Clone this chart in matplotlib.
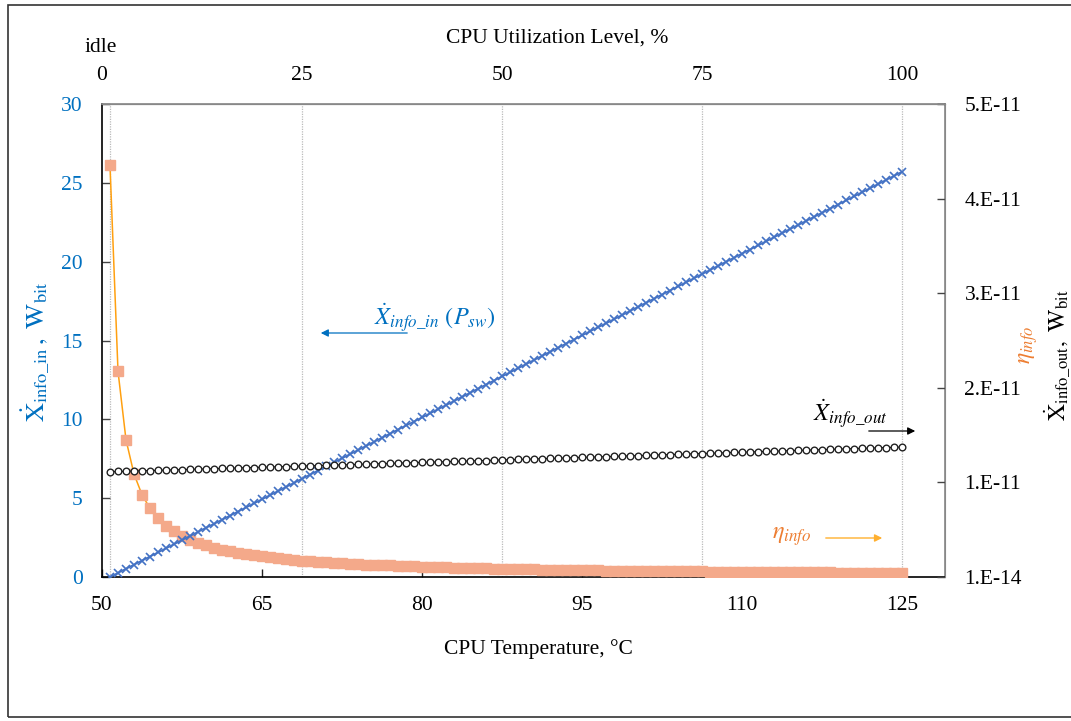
import matplotlib
matplotlib.use("Agg")
import matplotlib.pyplot as plt
from matplotlib.patches import Rectangle

plt.rcParams['font.family'] = ['Liberation Serif', 'DejaVu Serif']
plt.rcParams['mathtext.fontset'] = 'stix'

# ---------------- data ----------------
utilization = list(range(1, 101))          # CPU utilization level, %
temperature = [50 + 0.75 * u for u in utilization]   # CPU temperature, °C

x_info_in = [0.00, 0.26, 0.52, 0.78, 1.04, 1.30, 1.56, 1.82, 2.08, 2.34,
             2.60, 2.86, 3.12, 3.37, 3.63, 3.89, 4.15, 4.41, 4.67, 4.93,
             5.19, 5.45, 5.71, 5.97, 6.23, 6.49, 6.75, 7.01, 7.27, 7.53,
             7.79, 8.05, 8.31, 8.57, 8.83, 9.09, 9.35, 9.61, 9.86, 10.12,
             10.38, 10.64, 10.90, 11.16, 11.42, 11.68, 11.94, 12.20, 12.46, 12.72,
             12.98, 13.24, 13.50, 13.76, 14.02, 14.28, 14.54, 14.80, 15.06, 15.32,
             15.58, 15.84, 16.09, 16.35, 16.61, 16.87, 17.13, 17.39, 17.65, 17.91,
             18.17, 18.43, 18.69, 18.95, 19.21, 19.47, 19.73, 19.99, 20.25, 20.51,
             20.77, 21.03, 21.29, 21.55, 21.81, 22.07, 22.32, 22.58, 22.84, 23.10,
             23.36, 23.62, 23.88, 24.14, 24.40, 24.66, 24.92, 25.18, 25.44, 25.70]

eta_info = [26.10, 13.05, 8.70, 6.53, 5.22, 4.35, 3.73, 3.26, 2.90, 2.61,
            2.37, 2.18, 2.01, 1.86, 1.74, 1.63, 1.54, 1.45, 1.37, 1.31,
            1.24, 1.19, 1.13, 1.09, 1.04, 1.00, 0.97, 0.93, 0.90, 0.87,
            0.84, 0.82, 0.79, 0.77, 0.75, 0.73, 0.71, 0.69, 0.67, 0.65,
            0.64, 0.62, 0.61, 0.59, 0.58, 0.57, 0.56, 0.54, 0.53, 0.52,
            0.51, 0.50, 0.49, 0.48, 0.47, 0.47, 0.46, 0.45, 0.44, 0.44,
            0.43, 0.42, 0.41, 0.41, 0.40, 0.40, 0.39, 0.38, 0.38, 0.37,
            0.37, 0.36, 0.36, 0.35, 0.35, 0.34, 0.34, 0.33, 0.33, 0.33,
            0.32, 0.32, 0.31, 0.31, 0.31, 0.30, 0.30, 0.30, 0.29, 0.29,
            0.29, 0.28, 0.28, 0.28, 0.27, 0.27, 0.27, 0.27, 0.26, 0.26]

# x_info_out in units of 1e-11 W_bit
x_info_out_e11 = [1.113, 1.116, 1.118, 1.121, 1.123, 1.126, 1.128, 1.131, 1.133, 1.136,
                  1.138, 1.141, 1.143, 1.146, 1.148, 1.151, 1.153, 1.156, 1.158, 1.161,
                  1.163, 1.166, 1.168, 1.171, 1.173, 1.176, 1.178, 1.181, 1.183, 1.186,
                  1.188, 1.191, 1.194, 1.196, 1.199, 1.201, 1.204, 1.207, 1.209, 1.212,
                  1.214, 1.217, 1.219, 1.222, 1.225, 1.227, 1.230, 1.232, 1.235, 1.238,
                  1.240, 1.243, 1.245, 1.248, 1.251, 1.254, 1.256, 1.259, 1.262, 1.265,
                  1.267, 1.270, 1.273, 1.275, 1.278, 1.281, 1.284, 1.286, 1.289, 1.292,
                  1.295, 1.297, 1.300, 1.303, 1.306, 1.308, 1.311, 1.314, 1.317, 1.319,
                  1.322, 1.325, 1.328, 1.330, 1.333, 1.336, 1.339, 1.341, 1.344, 1.347,
                  1.349, 1.352, 1.355, 1.358, 1.360, 1.363, 1.366, 1.369, 1.371, 1.374]
x_info_out = [v * 1e-11 for v in x_info_out_e11]

temp_ticks = [50, 65, 80, 95, 110, 125]
util_ticks = [0, 25, 50, 75, 100]
left_ticks = [0, 5, 10, 15, 20, 25, 30]
right_ticks = [1e-14, 1e-11, 2e-11, 3e-11, 4e-11, 5e-11]
right_labels = ['1.E-14', '1.E-11', '2.E-11', '3.E-11', '4.E-11', '5.E-11']

# ---------------- figure ----------------
W, H = 1071, 721
fig = plt.figure(figsize=(W / 100, H / 100), dpi=100)

def fx(px):
    return px / W

def fy(py):
    return 1 - py / H

fig.patches.append(Rectangle((fx(8), fy(717)), 2.0, (717 - 5) / H,
                             transform=fig.transFigure, fill=False,
                             edgecolor='#333333', lw=1.2))

ax = fig.add_axes([fx(102), fy(577), (945 - 102) / W, (577 - 104) / H])
BLUE_TXT = '#0070C0'
BLUE = '#4472C4'
ORANGE = '#FFA010'
SALMON = '#F4A98A'
FS = 15.5

xmin, xmax = 50, 50 + (945 - 102) / 10.667
ax.set_xlim(xmin, xmax)
ax.set_ylim(0, 30)

# vertical dotted gridlines at utilization positions
for u in [1, 25, 50, 75, 100]:
    ax.axvline(50 + 0.75 * u, color='#BBBBBB', lw=0.9, ls=(0, (1, 1)), zorder=0)

ax.plot(temperature, eta_info, color=ORANGE, lw=1.1, marker='s', ms=6.5,
        mfc=SALMON, mec=SALMON, zorder=3)
ax.plot(temperature, x_info_in, color=BLUE, lw=1.3, marker='x', ms=5.5,
        mew=1.2, mec=BLUE, zorder=4)

ax.set_xticks(temp_ticks)
ax.set_yticks(left_ticks)
ax.tick_params(axis='both', direction='in', length=6, width=1, labelsize=FS, pad=14)
ax.tick_params(axis='y', colors='#444444', labelcolor=BLUE_TXT)
ax.tick_params(axis='x', colors='#222222', labelcolor='black')
ax.spines['left'].set_color('black')
ax.spines['bottom'].set_color('black')
ax.spines['top'].set_color('#888888')
ax.spines['right'].set_color('#888888')
for s in ax.spines.values():
    s.set_linewidth(1.2)

# right axis
ax2 = ax.twinx()
ax2.set_ylim(1e-14, 5e-11)
ax2.plot(temperature, x_info_out, color='black', lw=0.8, marker='o', ms=4.8,
         mfc='white', mec='#222222', mew=1.0, zorder=5)
ax2.set_yticks(right_ticks)
ax2.set_yticklabels(right_labels)
ax2.tick_params(axis='y', direction='in', length=6, width=1, labelsize=FS, pad=14,
                colors='#444444', labelcolor='black')
ax2.spines['right'].set_color('#888888')
ax2.spines['top'].set_color('#888888')
ax2.spines['left'].set_visible(False)
ax2.spines['bottom'].set_visible(False)

# top axis
ax3 = ax.twiny()
ax3.set_xlim((xmin - 50) / 0.75, (xmax - 50) / 0.75)
ax3.set_xticks(util_ticks)
ax3.tick_params(axis='x', length=0, labelsize=FS, pad=14, labelcolor='black')
ax3.spines['top'].set_color('#888888')
for k in ['left', 'right', 'bottom']:
    ax3.spines[k].set_visible(False)

# axis titles
fig.text(fx(557), fy(38), 'CPU Utilization Level, %', fontsize=FS, ha='center', va='center')
fig.text(fx(101), fy(47), 'idle', fontsize=FS, ha='center', va='center')
fig.text(fx(538), fy(649), 'CPU Temperature, °C', fontsize=FS, ha='center', va='center')
fig.text(fx(36), fy(352),
         r'$\dot{\mathrm{X}}_{\mathrm{info\_in}}\mathrm{\,,\ W_{bit}}$',
         fontsize=19, color=BLUE_TXT, rotation=90, ha='center', va='center')
fig.text(fx(1029), fy(345), r'$\eta_{info}$', fontsize=17, color='#ED7D31',
         rotation=90, ha='center', va='center')
fig.text(fx(1058), fy(355),
         r'$\dot{\mathrm{X}}_{\mathrm{info\_out}}\mathrm{,\ W_{bit}}$',
         fontsize=17, color='black', rotation=90, ha='center', va='center')

# annotations with arrows
fig.text(fx(435), fy(318), r'$\dot{X}_{info\_in}\ (P_{sw})$', fontsize=FS + 2,
         color=BLUE_TXT, ha='center', va='center')
ax.annotate('', xy=(318, H - 333), xytext=(410, H - 333), xycoords='figure pixels',
            textcoords='figure pixels',
            arrowprops=dict(arrowstyle='-|>', color=BLUE_TXT, lw=0.9, mutation_scale=11))

fig.text(fx(850), fy(414), r'$\dot{X}_{info\_out}$', fontsize=FS + 2,
         color='black', ha='center', va='center')
ax.annotate('', xy=(918, H - 431), xytext=(866, H - 431), xycoords='figure pixels',
            textcoords='figure pixels',
            arrowprops=dict(arrowstyle='-|>', color='black', lw=0.9, mutation_scale=11))

fig.text(fx(792), fy(537), r'$\eta_{info}$', fontsize=FS + 2,
         color='#ED7D31', ha='center', va='center')
ax.annotate('', xy=(885, H - 538), xytext=(823, H - 538), xycoords='figure pixels',
            textcoords='figure pixels',
            arrowprops=dict(arrowstyle='-|>', color='#FFB030', lw=1.0, mutation_scale=11))

fig.savefig('out.png', dpi=100)
